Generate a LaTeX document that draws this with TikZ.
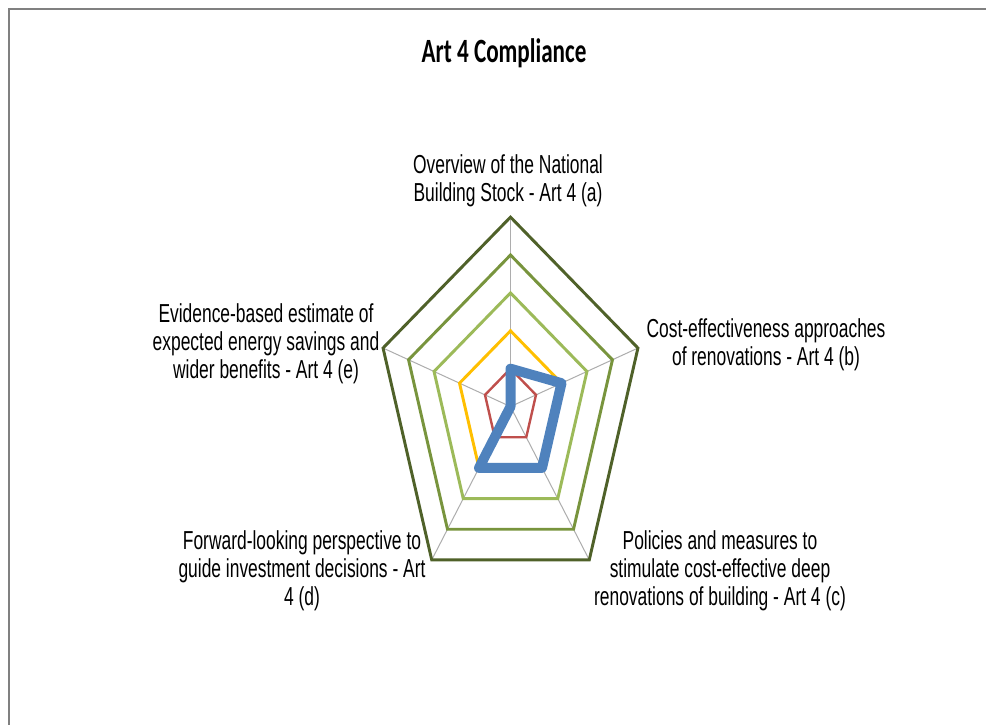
\documentclass[tikz,border=0pt]{standalone}
\usepackage{fontspec}
\newfontfamily\labelfont[FakeStretch=0.67]{Liberation Sans}
\newfontfamily\titlefont[FakeStretch=0.68]{Carlito}

\begin{document}
\begin{tikzpicture}[x=0.75pt,y=-0.75pt,
    axislabel/.style={align=center,inner sep=0pt,font=\labelfont\fontsize{19.5}{21}\selectfont},
    spoke/.style={color=spokegray,line width=0.75pt},
    ring/.style={line width=2.2pt},
]
  \definecolor{framegray}{rgb}{0.5,0.5,0.5}
  \definecolor{spokegray}{rgb}{0.68,0.68,0.68}
  \definecolor{olivedark}{rgb}{0.31,0.38,0.16}
  \definecolor{olivemid}{rgb}{0.47,0.58,0.24}
  \definecolor{olivelight}{rgb}{0.61,0.73,0.35}
  \definecolor{ambre}{rgb}{1,0.75,0}
  \definecolor{brickred}{rgb}{0.75,0.31,0.30}
  \definecolor{steelblue}{rgb}{0.31,0.51,0.74}

  \useasboundingbox (0,0) rectangle (986,725);
  \fill[white] (0,0) rectangle (986,725);

  %% frame (only top and left show)
  \draw[framegray,line width=1.9pt] (9,725) -- (9,9) -- (986,9);

  %% title
  \node[font=\titlefont\bfseries\fontsize{25.5}{28}\selectfont,inner sep=0pt] (title) at (504,53) {Art 4 Compliance};

%%%%%%%%%%%%%%%% radar chart

\begin{scope}[shift={(510.5,406.6)},xscale=26.8,yscale=-37.9]
  %% spokes
  \draw[spoke] (0,0) -- (90:5);
  \draw[spoke] (0,0) -- (18:5);
  \draw[spoke] (0,0) -- (-54:5);
  \draw[spoke] (0,0) -- (-126:5);
  \draw[spoke] (0,0) -- (162:5);

  %% rings
  \draw[ring,color=olivedark] (90:5) -- (18:5) -- (-54:5) -- (-126:5) -- (162:5) -- cycle;
  \draw[ring,color=olivemid] (90:4) -- (18:4) -- (-54:4) -- (-126:4) -- (162:4) -- cycle;
  \draw[ring,color=olivelight] (90:3) -- (18:3) -- (-54:3) -- (-126:3) -- (162:3) -- cycle;
  \draw[ring,color=ambre] (90:2) -- (18:2) -- (-54:2) -- (-126:2) -- (162:2) -- cycle;
  \draw[color=brickred,line width=1.8pt] (90:1) -- (18:1) -- (-54:1) -- (-126:1) -- (162:1) -- cycle;

  %% compliance scores
  \draw[color=steelblue,line width=7.5pt,line join=round] (90:1) -- (18:2) -- (-54:2) -- (-126:2) -- (0,0) -- cycle;
\end{scope}

  %% axis labels
  \node[axislabel] (arta) at (508,181) {Overview of the National\\Building Stock - Art 4 (a)};
  \node[axislabel] (artb) at (766,345) {Cost-effectiveness approaches\\of renovations - Art 4 (b)};
  \node[axislabel] (artc) at (720,571) {Policies and measures to\\stimulate cost-effective deep\\renovations of building - Art 4 (c)};
  \node[axislabel] (artd) at (302,571) {Forward-looking perspective to\\guide investment decisions - Art\\4 (d)};
  \node[axislabel] (arte) at (266,344) {Evidence-based estimate of\\expected energy savings and\\wider benefits - Art 4 (e)};

\end{tikzpicture}
\end{document}
